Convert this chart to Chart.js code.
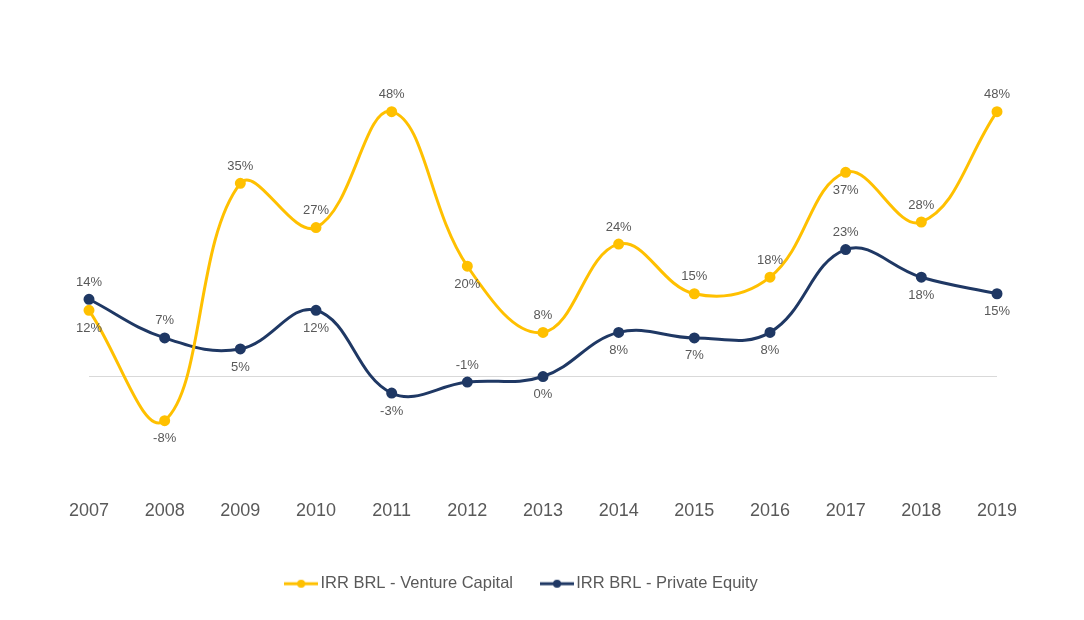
<!DOCTYPE html>
<html>
<head>
<meta charset="utf-8">
<script src="https://cdn.jsdelivr.net/npm/chart.js@4"></script>
<style>
  html, body { margin: 0; padding: 0; background: #fff; }
  #wrap { width: 1084px; height: 620px; }
</style>
</head>
<body>
<div id="wrap"><canvas id="g1"></canvas></div>
<script>
// dados
const anos = ['2007', '2008', '2009', '2010', '2011', '2012', '2013', '2014', '2015', '2016', '2017', '2018', '2019'];
const irrVC = [12, -8, 35, 27, 48, 20, 8, 24, 15, 18, 37, 28, 48];
const irrPE = [14, 7, 5, 12, -3, -1, 0, 8, 7, 8, 23, 18, 15];

// lado do rótulo: 1 = acima, -1 = abaixo
const ladoVC = [-1, -1, 1, 1, 1, -1, 1, 1, 1, 1, -1, 1, 1];
const ladoPE = [1, 1, -1, -1, -1, 1, -1, -1, -1, -1, 1, -1, -1];

const corVC = '#FFC000';
const corPE = '#1F3864';
const corTexto = '#595959';

// ícone da legenda: linha com bolinha no meio
function iconeLegenda(cor) {
    const c = document.createElement('canvas');
    c.width = 34; c.height = 10;
    const g = c.getContext('2d');
    g.strokeStyle = cor;
    g.lineWidth = 3;
    g.beginPath();
    g.moveTo(0, 5); g.lineTo(34, 5);
    g.stroke();
    g.fillStyle = cor;
    g.beginPath();
    g.arc(17, 5, 4, 0, Math.PI * 2);
    g.fill();
    return c;
}

// linha do zero e rótulos de valor
const rotulos = {
    id: 'rotulos',
    afterLayout(chart) {
        // legenda um pouco à esquerda, como no original
        chart.legend.left -= 19;
        chart.legend.right -= 19;
    },
    beforeDatasetsDraw(chart) {
        const { ctx, chartArea, scales } = chart;
        const y0 = scales.y.getPixelForValue(0);
        ctx.save();
        ctx.strokeStyle = '#D9D9D9';
        ctx.lineWidth = 1;
        ctx.beginPath();
        ctx.moveTo(chartArea.left, y0);
        ctx.lineTo(chartArea.right, y0);
        ctx.stroke();
        ctx.restore();
    },
    afterDatasetsDraw(chart) {
        const ctx = chart.ctx;
        const lados = [ladoVC, ladoPE];
        ctx.save();
        ctx.font = '13px "Liberation Sans", Arial, sans-serif';
        ctx.fillStyle = corTexto;
        ctx.textAlign = 'center';
        ctx.textBaseline = 'middle';
        chart.data.datasets.forEach((ds, i) => {
            const meta = chart.getDatasetMeta(i);
            meta.data.forEach((pt, j) => {
                const dy = lados[i][j] > 0 ? -17 : 18;
                ctx.fillText(ds.data[j] + '%', pt.x, pt.y + dy);
            });
        });
        ctx.restore();
    }
};

const ctx = document.getElementById('g1').getContext('2d');
new Chart(ctx, {
    type: 'line',
    data: {
        labels: anos,
        datasets: [
            {
                label: 'IRR BRL - Venture Capital',
                data: irrVC,
                borderColor: corVC,
                backgroundColor: corVC,
                borderWidth: 3,
                pointRadius: 4,
                pointStyle: 'circle',
                tension: 0.4
            },
            {
                label: 'IRR BRL - Private Equity',
                data: irrPE,
                borderColor: corPE,
                backgroundColor: corPE,
                borderWidth: 3,
                pointRadius: 4,
                pointStyle: 'circle',
                tension: 0.4
            }
        ]
    },
    options: {
        responsive: true,
        maintainAspectRatio: false,
        animation: false,
        layout: { padding: { top: 73, left: 89, right: 87, bottom: 18 } },
        scales: {
            x: {
                offset: false,
                grid: { display: false, drawTicks: false },
                border: { display: false },
                ticks: {
                    padding: 13,
                    color: corTexto,
                    font: { family: '"Liberation Sans", Arial, sans-serif', size: 18 }
                },
                afterFit: (scale) => { scale.height += 8; }
            },
            y: {
                display: false,
                min: -20,
                max: 55
            }
        },
        plugins: {
            legend: {
                position: 'bottom',
                labels: {
                    usePointStyle: true,
                    pointStyleWidth: 22,
                    padding: 33,
                    color: corTexto,
                    font: { family: '"Liberation Sans", Arial, sans-serif', size: 16.5 },
                    generateLabels: (chart) => chart.data.datasets.map((ds, i) => ({
                        text: ds.label,
                        fillStyle: ds.borderColor,
                        strokeStyle: ds.borderColor,
                        fontColor: corTexto,
                        pointStyle: iconeLegenda(ds.borderColor),
                        hidden: false,
                        datasetIndex: i
                    }))
                }
            },
            tooltip: { enabled: false }
        }
    },
    plugins: [rotulos]
});
</script>
</body>
</html>
